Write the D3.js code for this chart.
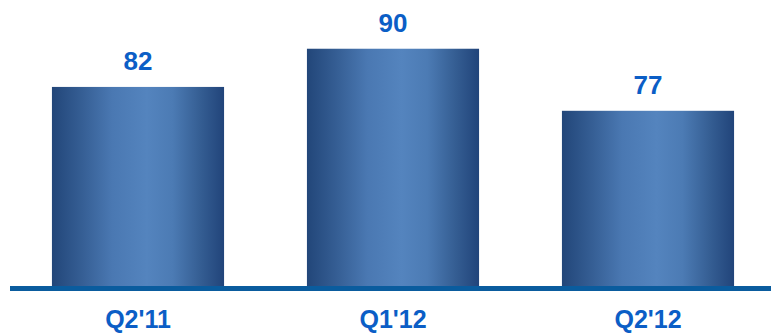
<!doctype html>
<html>
<head>
<meta charset="utf-8">
<title>Quarterly bars</title>
<style>
  body { margin: 0; background: #fff; }
  .val, .cat { font-family: "Liberation Sans", Arial, sans-serif; font-weight: bold; fill: #0b5ec6; }
  .val { font-size: 26px; }
  .cat { font-size: 25px; }
</style>
<script src="https://cdn.jsdelivr.net/npm/d3@7"></script>
</head>
<body>
<script>
var categories = ["Q2'11", "Q1'12", "Q2'12"];
var values = [82, 90, 77];

var width = 771, height = 335;
var baseY = 286;

var svg = d3.select("body").append("svg")
    .attr("width", width)
    .attr("height", height);

var x = d3.scaleBand()
    .domain(categories)
    .range([10.5, 775.5])
    .paddingInner(0.325)
    .paddingOuter(0.1625);

var y = d3.scaleLinear()
    .domain([40.3, 100])
    .range([baseY, 1]);

var grad = svg.append("defs").append("linearGradient")
    .attr("id", "barGrad")
    .attr("x1", "0%").attr("x2", "100%")
    .attr("y1", "0%").attr("y2", "0%");
[["0%", "#224679"], ["18%", "#365f95"], ["35%", "#4a78b2"], ["55%", "#5484be"],
 ["70%", "#4c7bb4"], ["86%", "#355e93"], ["100%", "#21447a"]].forEach(function(s) {
    grad.append("stop").attr("offset", s[0]).attr("stop-color", s[1]);
});

var data = categories.map(function(c, i) { return { cat: c, v: values[i] }; });

svg.selectAll(".bar")
    .data(data)
    .enter().append("rect")
    .attr("class", "bar")
    .attr("x", function(d) { return x(d.cat); })
    .attr("width", x.bandwidth())
    .attr("y", function(d) { return y(d.v); })
    .attr("height", function(d) { return baseY - y(d.v); })
    .attr("fill", "url(#barGrad)");

// baseline
svg.append("line")
    .attr("x1", 10).attr("x2", width)
    .attr("y1", 288.5).attr("y2", 288.5)
    .attr("stroke", "#0a5c9e")
    .attr("stroke-width", 5);

svg.selectAll(".val")
    .data(data)
    .enter().append("text")
    .attr("class", "val")
    .attr("text-anchor", "middle")
    .attr("x", function(d) { return x(d.cat) + x.bandwidth() / 2; })
    .attr("y", function(d) { return y(d.v) - 17; })
    .text(function(d) { return d.v; });

svg.selectAll(".cat")
    .data(categories)
    .enter().append("text")
    .attr("class", "cat")
    .attr("text-anchor", "middle")
    .attr("x", function(d) { return x(d) + x.bandwidth() / 2; })
    .attr("y", 328)
    .text(function(d) { return d; });
</script>
</body>
</html>
